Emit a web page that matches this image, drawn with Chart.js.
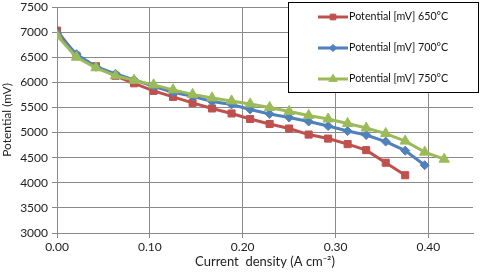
<!DOCTYPE html>
<html>
<head>
<meta charset="utf-8">
<script src="https://cdn.jsdelivr.net/npm/chart.js@4.4.1/dist/chart.umd.min.js"></script>
<style>
  html, body { margin: 0; padding: 0; background: #fff; }
  #wrap { position: relative; width: 480px; height: 272px; }
</style>
</head>
<body>
<div id="wrap"><canvas id="c" width="480" height="272"></canvas></div>
<script>
// ---- Data ----
const currentDensity = [0.000, 0.021, 0.042, 0.063, 0.083, 0.104, 0.125, 0.146, 0.167, 0.188,
                        0.208, 0.229, 0.250, 0.271, 0.292, 0.313, 0.333, 0.354, 0.375, 0.396, 0.417];
const potential650 = [7030, 6530, 6320, 6130, 5980, 5830, 5710, 5590, 5480, 5380,
                      5270, 5170, 5080, 4960, 4880, 4770, 4650, 4400, 4150];
const potential700 = [6980, 6560, 6310, 6170, 6050, 5920, 5800, 5720, 5620, 5560,
                      5460, 5370, 5300, 5220, 5130, 5030, 4950, 4820, 4640, 4350];
const potential750 = [6930, 6500, 6290, 6130, 6040, 5950, 5850, 5760, 5690, 5630,
                      5570, 5500, 5420, 5340, 5270, 5180, 5090, 4980, 4830, 4610, 4470];
const seriesLabels = ['Potential [mV] 650°C', 'Potential [mV] 700°C', 'Potential [mV] 750°C'];
const xTickValues = [0, 0.1, 0.2, 0.3, 0.4];
const xTitle = 'Current  density (A cm\u207B\u00B2)';
const yTitle = 'Potential (mV)';

const FONT = 'Lato, "Open Sans", sans-serif';
const GRID = '#8a8a8a';

function pts(ys) { return ys.map((y, i) => ({ x: currentDensity[i], y: y })); }

const datasets = [
  { label: seriesLabels[0], data: pts(potential650), borderColor: '#C0504D', backgroundColor: '#C0504D',
    pointStyle: 'rect', pointRadius: 5, borderWidth: 3, order: 3 },
  { label: seriesLabels[1], data: pts(potential700), borderColor: '#4F81BD', backgroundColor: '#4F81BD',
    pointStyle: 'rectRot', pointRadius: 4.5, borderWidth: 3, order: 2 },
  { label: seriesLabels[2], data: pts(potential750), borderColor: '#9BBB59', backgroundColor: '#9BBB59',
    pointStyle: 'triangle', pointRadius: 6, borderWidth: 3, order: 1 }
];
datasets.forEach(d => { d.tension = 0; d.pointBorderWidth = 1; d.pointHoverRadius = d.pointRadius; });

const legendBox = {
  id: 'legendBox',
  afterDraw(chart) {
    const ctx = chart.ctx;
    ctx.save();
    ctx.fillStyle = '#fff';
    ctx.fillRect(288, 2, 191, 91);
    ctx.strokeStyle = '#000';
    ctx.lineWidth = 1;
    ctx.strokeRect(288.5, 2.5, 190, 90);
    const rows = [17, 48, 79];
    chart.data.datasets.forEach((ds, i) => {
      const y = rows[i];
      ctx.strokeStyle = ds.borderColor;
      ctx.lineWidth = 3;
      ctx.beginPath(); ctx.moveTo(318, y); ctx.lineTo(348, y); ctx.stroke();
      ctx.fillStyle = ds.backgroundColor;
      ctx.strokeStyle = ds.borderColor;
      ctx.lineWidth = 1;
      Chart.helpers.drawPoint(ctx, { pointStyle: ds.pointStyle, rotation: 0, radius: ds.pointRadius * 0.8, borderWidth: 1 }, 333, y);
      ctx.fillStyle = '#111';
      ctx.font = '10.7px ' + FONT;
      ctx.textBaseline = 'middle';
      ctx.textAlign = 'left';
      ctx.fillText(ds.label, 349, y);
    });
    ctx.restore();
  }
};

new Chart(document.getElementById('c'), {
  type: 'line',
  data: { datasets },
  options: {
    responsive: false,
    animation: false,
    layout: { padding: { top: 4, right: -2, left: 0, bottom: 0 } },
    plugins: { legend: { display: false }, tooltip: { enabled: false } },
    scales: {
      x: {
        type: 'linear', min: 0, max: 0.448,
        afterBuildTicks: s => { s.ticks = xTickValues.map(v => ({ value: v })); },
        afterFit: s => { s.height = 39; s.paddingLeft = 0; s.paddingRight = 0; },
        ticks: { color: '#222', font: { family: FONT, size: 12 }, padding: 2, maxRotation: 0,
                 callback: v => Number(v).toFixed(2) },
        grid: { color: GRID, lineWidth: 1, tickLength: 5, drawTicks: true },
        border: { color: GRID, width: 1 },
        title: { display: true, text: xTitle, color: '#222', font: { family: FONT, size: 13 }, padding: { top: 0, bottom: 2 } }
      },
      y: {
        type: 'linear', min: 3000, max: 7500,
        afterFit: s => { s.width = 57; s.paddingTop = 0; s.paddingBottom = 0; },
        ticks: { stepSize: 500, color: '#222', font: { family: FONT, size: 12 }, padding: 4,
                 callback: v => String(v) },
        grid: { color: GRID, lineWidth: 1, tickLength: 5 },
        border: { color: GRID, width: 1 },
        title: { display: true, text: yTitle, color: '#222', font: { family: FONT, size: 12 }, padding: { top: 0, bottom: 4 } }
      }
    }
  },
  plugins: [legendBox]
});
</script>
</body>
</html>
